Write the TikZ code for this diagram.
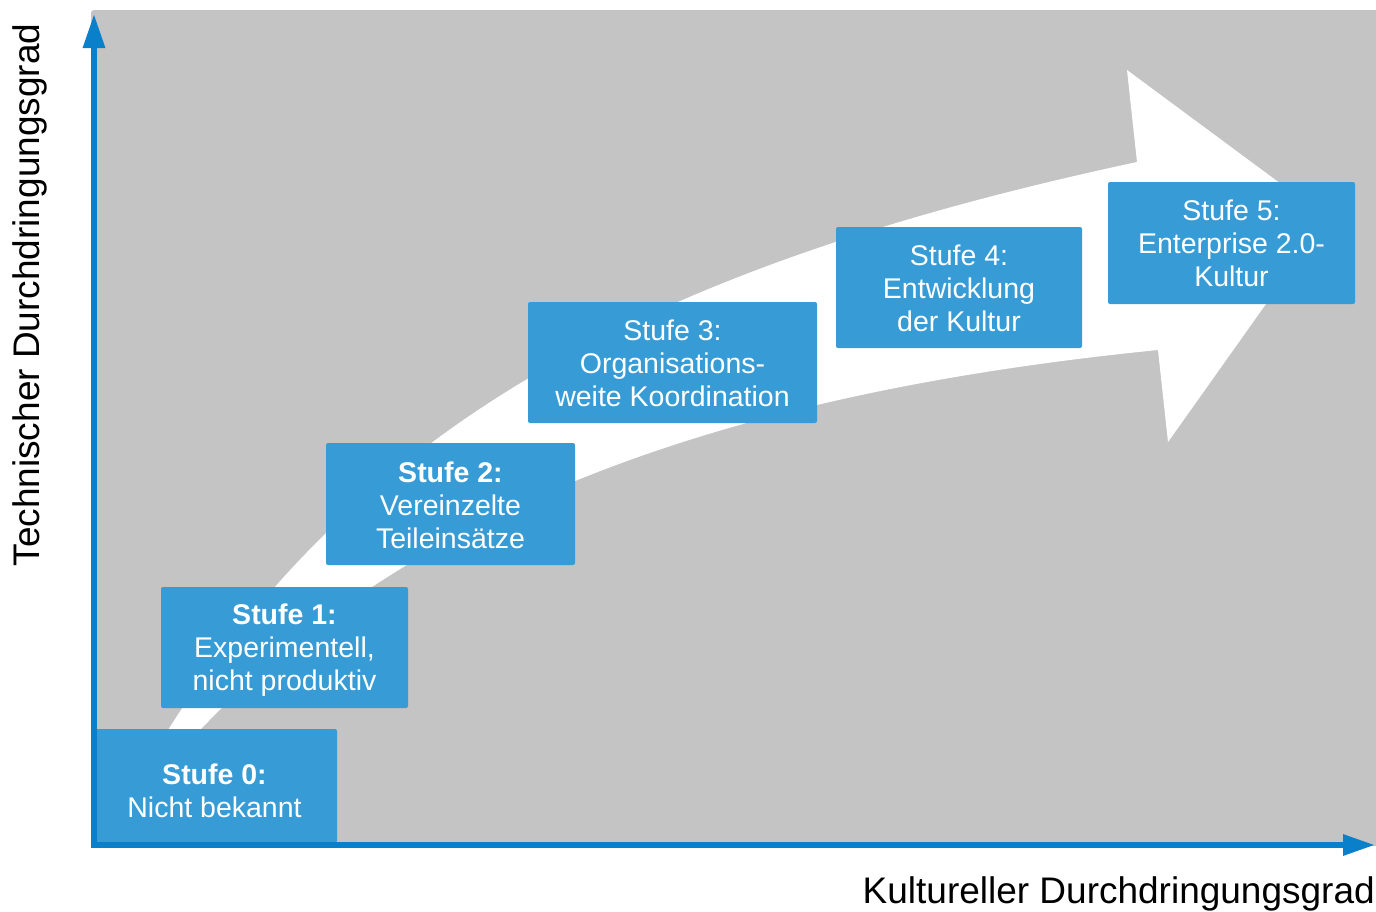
\documentclass[tikz,border=0pt]{standalone}
\usepackage{fontspec}
\setmainfont{Liberation Sans}
\usetikzlibrary{arrows.meta}
\definecolor{bggrey}{HTML}{C4C4C4}
\definecolor{boxblue}{HTML}{379CD6}
\definecolor{axisblue}{HTML}{0A7FCA}
\newcommand{\myboxfont}{\fontsize{28.5}{33}\selectfont}
\newcommand{\mylabelfont}{\fontsize{37}{42}\selectfont}
\tikzset{
  stagebox/.style={fill=boxblue, rounded corners=2pt, inner sep=0pt},
  stagetext/.style={text=white, inner sep=0pt, align=center, font={\myboxfont}},
  axisline/.style={draw=axisblue, line width=6pt,
    {Triangle[length=34pt,width=21pt]}-{Triangle[length=32pt,width=20pt]}},
  axislabel/.style={font={\mylabelfont}, text=black, inner sep=0pt}
}
\begin{document}
\begin{tikzpicture}[x=1pt,y=-1pt]
\useasboundingbox (0,0) rectangle (1376,911);
% background panel
\fill[bggrey, rounded corners=3pt] (91,10) rectangle (1390,846);
% big curved arrow
\fill[white] (168,730) .. controls (362,424) and (647,267) .. (1137,162)
  -- (1127,70) -- (1327,218) -- (1168,442) -- (1158,350)
  .. controls (708,395) and (407,514) .. (200,730) -- cycle;
% stage boxes
\node[stagebox, minimum width=245pt, minimum height=114pt,
  label={[stagetext, yshift=-5pt]center:{\textbf{Stufe 0:}\\Nicht bekannt}}] (s0) at (214.5,786) {};
\node[stagebox, minimum width=247pt, minimum height=121pt,
  label={[stagetext, yshift=-3pt]center:{\textbf{Stufe 1:}\\Experimentell,\\nicht produktiv}}] (s1) at (284.5,647.5) {};
\node[stagebox, minimum width=249pt, minimum height=122pt,
  label={[stagetext, yshift=-1pt]center:{\textbf{Stufe 2:}\\Vereinzelte\\Teileinsätze}}] (s2) at (450.5,504) {};
\node[stagebox, minimum width=289pt, minimum height=121pt,
  label={[stagetext, yshift=-1pt]center:{Stufe 3:\\Organisations-\\weite Koordination}}] (s3) at (672.5,362.5) {};
\node[stagebox, minimum width=246pt, minimum height=121pt,
  label={[stagetext, yshift=-1pt]center:{Stufe 4:\\Entwicklung\\der Kultur}}] (s4) at (959,287.5) {};
\node[stagebox, minimum width=247pt, minimum height=122pt,
  label={[stagetext, yshift=0pt]center:{Stufe 5:\\Enterprise 2.0-\\Kultur}}] (s5) at (1231.5,243) {};
% axes
\coordinate (ytop) at (94,14);
\coordinate (orig) at (94,845);
\coordinate (xend) at (1375,845);
\draw[axisline] (ytop) -- (orig) -- (xend);
% axis labels
\node[axislabel, rotate=90] (ylab) at (30,295) {Technischer Durchdringungsgrad};
\node[axislabel, anchor=base east] (xlab) at (1375,903) {Kultureller Durchdringungsgrad};
\end{tikzpicture}
\end{document}
